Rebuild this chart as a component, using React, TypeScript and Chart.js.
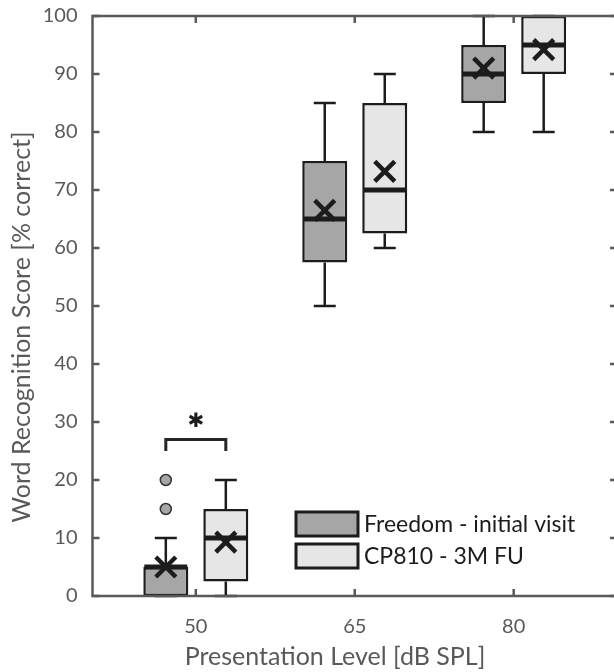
import React, { useEffect, useRef } from 'react';
import { Chart, registerables } from 'chart.js';

Chart.register(...registerables);

const LEVELS = ['50', '65', '80'];
const SERIES_LABELS = ['Freedom - initial visit', 'CP810 - 3M FU'];
const SERIES_FILLS = ['#a6a6a6', '#e6e6e6'];

const FREEDOM_MIN = [0, 50, 80];
const FREEDOM_Q1 = [0, 57.5, 85];
const FREEDOM_MEDIAN = [5, 65, 90];
const FREEDOM_Q3 = [5, 75, 95];
const FREEDOM_MAX = [10, 85, 100];
const FREEDOM_MEAN = [5, 66.5, 91];
const FREEDOM_OUTLIERS = [[15, 20], [], []];

const CP810_MIN = [0, 60, 80];
const CP810_Q1 = [2.5, 62.5, 90];
const CP810_MEDIAN = [10, 70, 95];
const CP810_Q3 = [15, 85, 100];
const CP810_MAX = [20, 90, 100];
const CP810_MEAN = [9.3, 73.2, 94.2];
const CP810_OUTLIERS = [[], [], []];

const Y_MIN = 0;
const Y_MAX = 100;
const Y_STEP = 10;

const SIG_LEVEL = [0];
const SIG_BRACKET_TOP = [27];
const SIG_BRACKET_LEG = [25];
const SIG_MARK_Y = [30];
const SIG_MARK = ['✱'];

const X_TITLE = 'Presentation Level [dB SPL]';
const Y_TITLE = 'Word Recognition Score [% correct]';

const STATS = [
  { min: FREEDOM_MIN, q1: FREEDOM_Q1, med: FREEDOM_MEDIAN, q3: FREEDOM_Q3, max: FREEDOM_MAX, mean: FREEDOM_MEAN, out: FREEDOM_OUTLIERS },
  { min: CP810_MIN, q1: CP810_Q1, med: CP810_MEDIAN, q3: CP810_Q3, max: CP810_MAX, mean: CP810_MEAN, out: CP810_OUTLIERS },
];

const FONT = 'Lato, "Open Sans", sans-serif';
const AXIS_COLOR = '#595959';
const INK = '#1c1c1c';

const boxPlugin = {
  id: 'boxExtras',
  beforeDatasetsDraw(chart: any) {
    const ctx = chart.ctx;
    const y = chart.scales.y;
    ctx.save();
    ctx.strokeStyle = INK;
    ctx.lineWidth = 2.5;
    STATS.forEach((s, di) => {
      const meta = chart.getDatasetMeta(di);
      meta.data.forEach((el: any, i: number) => {
        const cx = el.x;
        const cap = 11;
        ctx.beginPath();
        ctx.moveTo(cx, y.getPixelForValue(s.q3[i]));
        ctx.lineTo(cx, y.getPixelForValue(s.max[i]));
        ctx.moveTo(cx - cap, y.getPixelForValue(s.max[i]));
        ctx.lineTo(cx + cap, y.getPixelForValue(s.max[i]));
        ctx.moveTo(cx, y.getPixelForValue(s.q1[i]));
        ctx.lineTo(cx, y.getPixelForValue(s.min[i]));
        ctx.moveTo(cx - cap, y.getPixelForValue(s.min[i]));
        ctx.lineTo(cx + cap, y.getPixelForValue(s.min[i]));
        ctx.stroke();
      });
    });
    ctx.restore();
  },
  afterDatasetsDraw(chart: any) {
    const ctx = chart.ctx;
    const y = chart.scales.y;
    ctx.save();
    STATS.forEach((s, di) => {
      const meta = chart.getDatasetMeta(di);
      meta.data.forEach((el: any, i: number) => {
        const cx = el.x;
        const hw = el.width / 2;
        // median
        ctx.strokeStyle = INK;
        ctx.lineWidth = 5;
        ctx.beginPath();
        const my = y.getPixelForValue(s.med[i]);
        ctx.moveTo(cx - hw + 1, my);
        ctx.lineTo(cx + hw - 1, my);
        ctx.stroke();
        // mean cross
        const mny = y.getPixelForValue(s.mean[i]);
        const r = 10;
        ctx.lineWidth = 4.5;
        ctx.beginPath();
        ctx.moveTo(cx - r, mny - r);
        ctx.lineTo(cx + r, mny + r);
        ctx.moveTo(cx - r, mny + r);
        ctx.lineTo(cx + r, mny - r);
        ctx.stroke();
        // outliers
        s.out[i].forEach((v: number) => {
          ctx.beginPath();
          ctx.arc(cx, y.getPixelForValue(v), 5.5, 0, Math.PI * 2);
          ctx.fillStyle = SERIES_FILLS[di];
          ctx.fill();
          ctx.lineWidth = 1.5;
          ctx.strokeStyle = '#333333';
          ctx.stroke();
        });
      });
    });
    // significance bracket
    SIG_LEVEL.forEach((lv, k) => {
      const a = chart.getDatasetMeta(0).data[lv];
      const b = chart.getDatasetMeta(1).data[lv];
      const top = y.getPixelForValue(SIG_BRACKET_TOP[k]);
      const leg = y.getPixelForValue(SIG_BRACKET_LEG[k]);
      ctx.strokeStyle = '#262626';
      ctx.lineWidth = 3;
      ctx.beginPath();
      ctx.moveTo(a.x, leg);
      ctx.lineTo(a.x, top);
      ctx.lineTo(b.x, top);
      ctx.lineTo(b.x, leg);
      ctx.stroke();
      ctx.fillStyle = '#1c1c1c';
      ctx.font = 'bold 20px "DejaVu Sans", sans-serif';
      ctx.textAlign = 'center';
      ctx.textBaseline = 'middle';
      ctx.fillText(SIG_MARK[k], chart.scales.x.getPixelForValue(lv), y.getPixelForValue(SIG_MARK_Y[k]));
    });
    ctx.restore();
  },
  afterDraw(chart: any) {
    const ctx = chart.ctx;
    const { left, right, top, bottom } = chart.chartArea;
    const x = chart.scales.x;
    const y = chart.scales.y;
    ctx.save();
    // frame
    ctx.strokeStyle = AXIS_COLOR;
    ctx.lineWidth = 2.5;
    ctx.strokeRect(left, top, right - left, bottom - top);
    // inward ticks
    const tl = 7;
    ctx.beginPath();
    LEVELS.forEach((_, i) => {
      const px = x.getPixelForValue(i);
      ctx.moveTo(px, bottom);
      ctx.lineTo(px, bottom - tl);
      ctx.moveTo(px, top);
      ctx.lineTo(px, top + tl);
    });
    for (let v = Y_MIN; v <= Y_MAX; v += Y_STEP) {
      const py = y.getPixelForValue(v);
      ctx.moveTo(left, py);
      ctx.lineTo(left + tl, py);
      ctx.moveTo(right, py);
      ctx.lineTo(right - tl, py);
    }
    ctx.stroke();
    // axis titles
    ctx.fillStyle = AXIS_COLOR;
    ctx.font = `25px ${FONT}`;
    ctx.textAlign = 'center';
    ctx.textBaseline = 'middle';
    ctx.fillText(X_TITLE, 335, 657);
    ctx.save();
    ctx.translate(22, 327);
    ctx.rotate(-Math.PI / 2);
    ctx.fillText(Y_TITLE, 0, 0);
    ctx.restore();
    // legend
    ctx.font = `23px ${FONT}`;
    ctx.textAlign = 'left';
    SERIES_LABELS.forEach((lab, i) => {
      const by = 512 + i * 32;
      ctx.fillStyle = SERIES_FILLS[i];
      ctx.fillRect(296, by, 62, 24);
      ctx.strokeStyle = INK;
      ctx.lineWidth = 3;
      ctx.strokeRect(296, by, 62, 24);
      ctx.fillStyle = '#1c1c1c';
      ctx.fillText(lab, 364, by + 13);
    });
    ctx.restore();
  },
};

export default function App() {
  const ref = useRef<HTMLCanvasElement | null>(null);
  useEffect(() => {
    if (!ref.current) return;
    const datasets = STATS.map((s, di) => ({
      label: SERIES_LABELS[di],
      data: LEVELS.map((_, i) => ({ x: i, y: [s.q1[i], s.q3[i]] })),
      backgroundColor: SERIES_FILLS[di],
      borderColor: INK,
      borderWidth: 2.5,
      borderSkipped: false as any,
      categoryPercentage: 0.755,
      barPercentage: 0.75,
    }));
    const chart = new Chart(ref.current, {
      type: 'bar',
      data: { datasets },
      options: {
        responsive: false,
        maintainAspectRatio: false,
        animation: false,
        devicePixelRatio: 1,
        layout: { padding: { top: 16, right: 3, left: 0, bottom: 0 } },
        plugins: { legend: { display: false }, tooltip: { enabled: false } },
        scales: {
          x: {
            type: 'linear',
            min: -0.65,
            max: 2.65,
            offset: false,
            grid: { display: false, drawTicks: false },
            border: { display: false },
            afterBuildTicks: (s: any) => {
              s.ticks = LEVELS.map((_, i) => ({ value: i }));
            },
            afterFit: (s: any) => {
              s.height = 76;
              s.paddingLeft = 0;
              s.paddingRight = 0;
            },
            ticks: {
              callback: (v: any) => LEVELS[v],
              padding: 19,
              maxRotation: 0,
              autoSkip: false,
              color: AXIS_COLOR,
              font: { family: FONT, size: 20 },
            },
          },
          y: {
            min: Y_MIN,
            max: Y_MAX,
            grid: { display: false, drawTicks: false },
            border: { display: false },
            afterFit: (s: any) => {
              s.width = 92.5;
              s.paddingTop = 0;
              s.paddingBottom = 0;
            },
            ticks: {
              stepSize: Y_STEP,
              padding: 15,
              color: AXIS_COLOR,
              font: { family: FONT, size: 20 },
            },
          },
        },
      },
      plugins: [boxPlugin],
    });
    return () => chart.destroy();
  }, []);
  return (
    <div style={{ position: 'fixed', left: 0, top: 0, width: 614, height: 672, overflow: 'hidden', background: '#fff' }}>
      <canvas ref={ref} width={620} height={672} style={{ display: 'block', width: 620, height: 672 }} />
    </div>
  );
}
